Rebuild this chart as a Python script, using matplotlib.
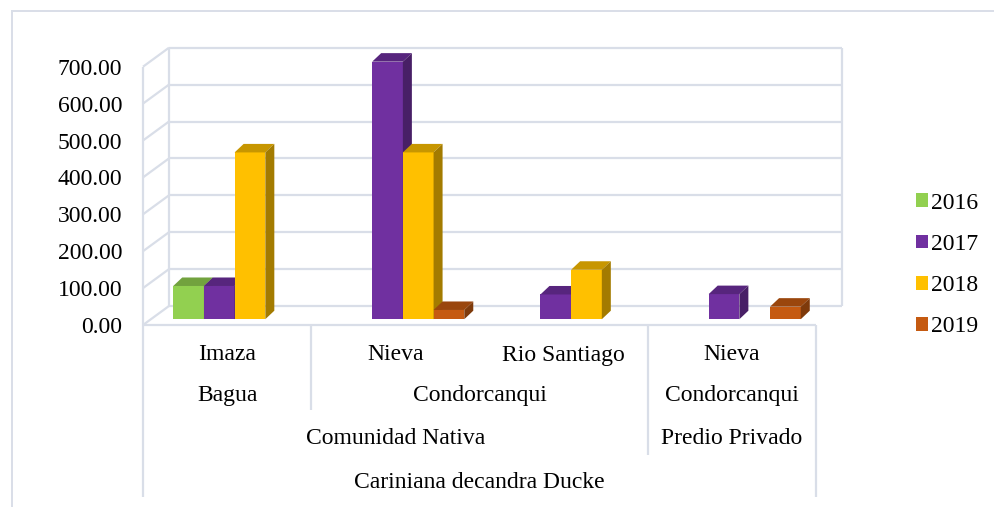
import matplotlib
matplotlib.use("Agg")
import matplotlib.pyplot as plt
from matplotlib.patches import Polygon, Patch
from matplotlib.lines import Line2D
from matplotlib.colors import to_rgb

# ---- data -------------------------------------------------------------
years = ["2016", "2017", "2018", "2019"]
distritos = ["Imaza", "Nieva", "Rio Santiago", "Nieva"]
provincias = ["Bagua", "Condorcanqui", "Condorcanqui"]
provincia_span = [(0, 1), (1, 3), (3, 4)]
tenencias = ["Comunidad Nativa", "Predio Privado"]
tenencia_span = [(0, 3), (3, 4)]
especie = "Cariniana decandra Ducke"

v2016 = [90, None, None, None]
v2017 = [90, 698, 67, 68]
v2018 = [452, 452, 134, None]
v2019 = [None, 25, None, 34]
series = [v2016, v2017, v2018, v2019]

colors = ["#92D050", "#7030A0", "#FFC000", "#C55A11"]
y_ticks = [0, 100, 200, 300, 400, 500, 600, 700]

# ---- layout (pixel geometry of the pseudo-3D frame) ------------------
W_PX, H_PX = 995, 507
FRONT_L, FRONT_R = 143, 816          # front edge of the floor
FRONT_Y0 = 325                       # pixel row of value 0 at the front
PX_PER_UNIT = 0.369                  # pixels per value unit
DEPTH_X, DEPTH_Y = 26, 19            # wall depth offset in pixels
n_cat = len(distritos)

PXX = n_cat / (FRONT_R - FRONT_L)    # category units per pixel
PXY = 1 / PX_PER_UNIT                # value units per pixel
DX, DY = DEPTH_X * PXX, DEPTH_Y * PXY

plt.rcParams["font.family"] = ["Liberation Serif", "DejaVu Serif"]
FS = 17
GRID = "#D9DEE8"

fig = plt.figure(figsize=(W_PX / 100, H_PX / 100), dpi=100)
top_px = FRONT_Y0 - (700 * PX_PER_UNIT + DEPTH_Y) - 1.5
ax = fig.add_axes([FRONT_L / W_PX, 1 - FRONT_Y0 / H_PX,
                   (FRONT_R + DEPTH_X - FRONT_L) / W_PX,
                   (FRONT_Y0 - top_px) / H_PX])
ax.set_xlim(0, n_cat + DX)
ax.set_ylim(0, (FRONT_Y0 - top_px) * PXY)
for s in ax.spines.values():
    s.set_visible(False)
ax.set_xticks([])
ax.set_yticks(y_ticks)
ax.set_yticklabels([f"{t:.2f}" for t in y_ticks], fontsize=FS)
ax.tick_params(axis="y", length=0, pad=15)
ax.patch.set_alpha(0)

lw = 1.6
def line(xs, ys, **kw):
    ax.add_line(Line2D(xs, ys, color=GRID, lw=lw, clip_on=False,
                       solid_capstyle="butt", zorder=1, **kw))

# back wall gridlines and side-wall diagonals
for t in y_ticks:
    line([DX, n_cat + DX], [t + DY, t + DY])
    line([0, DX], [t, t + DY])
line([DX, DX], [DY, 700 + DY])
line([n_cat + DX, n_cat + DX], [DY, 700 + DY])
line([0, 0], [0, 700])
line([0, n_cat], [0, 0])

# ---- bars (front / top / side faces) ---------------------------------
def shade(c, f):
    r, g, b = to_rgb(c)
    return (r * f, g * f, b * f)

BW = 30.7 * PXX                     # bar width
OX, OY = 7.5 * PXX, 5.8 * PXY        # front face offset inside the floor
BDX, BDY = 9 * PXX, 8.5 * PXY        # bar depth
group_w = BW * len(series)
z = 3
for i in range(n_cat):
    start = i + 0.5 - group_w / 2 + OX
    for j, vals in enumerate(series):
        v = vals[i]
        if v is None:
            continue
        x0 = start + j * BW
        x1 = x0 + BW
        c = colors[j]
        ax.bar(x0, v, width=BW, bottom=OY, align="edge", color=c,
               edgecolor="none", zorder=z, clip_on=False)
        top = Polygon([(x0, OY + v), (x1, OY + v), (x1 + BDX, OY + v + BDY),
                       (x0 + BDX, OY + v + BDY)], closed=True,
                      facecolor=shade(c, 0.78), edgecolor="none",
                      zorder=z, clip_on=False)
        side = Polygon([(x1, OY), (x1, OY + v), (x1 + BDX, OY + v + BDY),
                        (x1 + BDX, OY + BDY)], closed=True,
                       facecolor=shade(c, 0.64), edgecolor="none",
                       zorder=z, clip_on=False)
        ax.add_patch(top)
        ax.add_patch(side)
        z += 1

# ---- multi-level category box ----------------------------------------
def py(p):
    return (FRONT_Y0 - p) * PXY

box_bottom = 497
line([0, 0], [0, py(box_bottom)])
line([n_cat, n_cat], [0, py(box_bottom)])
line([1, 1], [0, py(410)])
line([3, 3], [0, py(455)])

row_y = [355, 396, 438, 482]
for i, name in enumerate(distritos):
    ax.text(i + 0.5, py(row_y[0]), name, ha="center", va="center",
            fontsize=FS, clip_on=False)
for name, (a, b) in zip(provincias, provincia_span):
    ax.text((a + b) / 2, py(row_y[1]), name, ha="center", va="center",
            fontsize=FS, clip_on=False)
for name, (a, b) in zip(tenencias, tenencia_span):
    ax.text((a + b) / 2, py(row_y[2]), name, ha="center", va="center",
            fontsize=FS, clip_on=False)
ax.text(n_cat / 2, py(row_y[3]), especie, ha="center", va="center",
        fontsize=FS, clip_on=False)

# ---- legend ------------------------------------------------------------
handles = [Patch(facecolor=c, edgecolor="none") for c in colors]
fig.legend(handles, years, loc="center left",
           bbox_to_anchor=(904 / W_PX, 1 - 265 / H_PX), frameon=False,
           fontsize=FS, handlelength=0.5, handleheight=0.5,
           handletextpad=0.15, labelspacing=0.86, borderpad=0)

# ---- outer chart border --------------------------------------------------
fig.add_artist(Line2D([12 / W_PX, 12 / W_PX], [0, 1 - 11 / H_PX],
                      transform=fig.transFigure, color=GRID, lw=1.4))
fig.add_artist(Line2D([12 / W_PX, 1], [1 - 11 / H_PX, 1 - 11 / H_PX],
                      transform=fig.transFigure, color=GRID, lw=1.4))

fig.savefig("out.png", dpi=100)
